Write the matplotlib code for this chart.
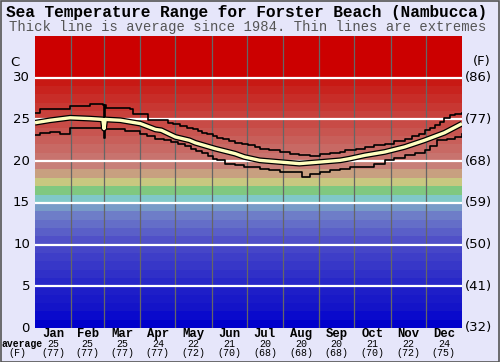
import matplotlib
matplotlib.use("Agg")
import matplotlib.pyplot as plt
import numpy as np

# ---- data ----
months = ["Jan", "Feb", "Mar", "Apr", "May", "Jun", "Jul", "Aug", "Sep", "Oct", "Nov", "Dec"]
month_avg_c = [25, 25, 25, 24, 22, 21, 20, 20, 20, 21, 22, 24]
month_avg_f = [77, 77, 77, 77, 72, 70, 68, 68, 68, 70, 72, 75]
month_days = [31, 28, 31, 30, 31, 30, 31, 31, 30, 31, 30, 31]

avg_day = [0, 13, 30, 47, 58, 59, 60, 73, 90, 103, 108, 120, 132, 137, 154, 171, 179, 192,
           209, 226, 244, 261, 269, 282, 299, 316, 333, 350, 365]
avg_temp = [24.6, 24.9, 25.2, 25.1, 25.0, 23.9, 25.0, 24.9, 24.5, 23.8, 23.7, 22.9, 22.5, 22.2,
            21.5, 20.9, 20.5, 20.1, 19.9, 19.7, 19.9, 20.1, 20.3, 20.7, 21.1, 21.7, 22.5, 23.4, 24.5]

max_day = [0, 4, 30, 47, 58, 59, 60, 61, 81, 84, 96, 97, 110, 114, 118, 124, 130, 135, 139, 143,
           147, 152, 156, 161, 166, 171, 177, 182, 188, 192, 200, 209, 218, 226, 235, 244, 252,
           261, 265, 274, 282, 290, 299, 307, 316, 322, 328, 333, 338, 342, 346, 350, 355, 359, 365]
max_temp = [25.8, 26.2, 26.6, 26.8, 26.7, 25.0, 26.7, 26.4, 26.3, 25.7, 25.6, 24.9, 24.9, 24.6,
            24.4, 24.2, 24.0, 23.8, 23.6, 23.4, 23.2, 23.0, 22.8, 22.6, 22.4, 22.2, 22.1, 21.9,
            21.7, 21.5, 21.3, 21.1, 20.9, 20.7, 20.6, 20.9, 21.0, 21.1, 21.3, 21.5, 21.7, 21.9,
            22.1, 22.4, 22.7, 23.0, 23.3, 23.7, 24.0, 24.3, 24.7, 25.2, 25.5, 25.7, 25.8]

min_day = [0, 4, 13, 21, 30, 58, 59, 60, 77, 90, 96, 103, 110, 116, 122, 128, 133, 138, 143, 148,
           152, 156, 162, 171, 179, 192, 200, 209, 226, 228, 235, 244, 252, 261, 269, 282, 290,
           299, 307, 316, 325, 333, 338, 344, 352, 359, 365]
min_temp = [23.1, 23.4, 23.5, 23.3, 24.0, 23.9, 22.8, 23.9, 23.6, 23.3, 23.0, 22.7, 22.5, 22.3,
            22.0, 21.8, 21.5, 21.2, 21.0, 20.6, 20.3, 20.1, 19.7, 19.5, 19.3, 19.1, 18.9, 18.7,
            18.7, 18.1, 18.5, 18.7, 18.9, 19.0, 19.3, 19.3, 19.7, 20.1, 20.4, 20.7, 21.0, 21.3,
            21.8, 22.5, 22.7, 22.9, 23.3]

c_ticks = [0, 5, 10, 15, 20, 25, 30]
f_labels = ["(32)", "(41)", "(50)", "(59)", "(68)", "(77)", "(86)"]

band_colors = [
    (0, 0, 204), (10, 10, 204), (20, 20, 200), (25, 25, 200), (30, 30, 200),
    (40, 40, 200), (48, 48, 200), (55, 55, 200), (62, 62, 200), (70, 70, 200),
    (80, 80, 200), (90, 95, 200), (100, 110, 200), (110, 125, 200), (120, 155, 200),
    (128, 200, 200), (128, 200, 128), (200, 200, 128), (200, 160, 128), (200, 128, 120),
    (200, 115, 110), (200, 105, 100), (200, 95, 90), (200, 85, 80), (200, 75, 70),
    (200, 65, 60), (200, 55, 50), (200, 45, 40), (200, 35, 30), (200, 25, 20),
]

BG = "#e6e6fa"
fig = plt.figure(figsize=(5.0, 3.62), dpi=100, facecolor=BG)
ax = fig.add_axes([35 / 500, 1 - 328 / 362, 427 / 500, 292 / 362])
ax.set_xlim(0, 365)
ax.set_ylim(0, 35)

for i, c in enumerate(band_colors):
    ax.axhspan(i, i + 1, color=tuple(v / 255 for v in c), lw=0, zorder=0)
ax.axhspan(30, 35, color=(204 / 255, 0, 0), lw=0, zorder=0)

edges = np.cumsum(month_days)
for e in edges[:-1]:
    ax.axvline(e, color="#666666", lw=0.9, zorder=1)
for t in c_ticks[1:]:
    ax.axhline(t, color="white", lw=1.6, zorder=1)

ax.plot(max_day, max_temp, color="black", lw=1.2, drawstyle="steps-post", zorder=3)
ax.plot(min_day, min_temp, color="black", lw=1.2, drawstyle="steps-post", zorder=3)
ax.plot(avg_day, avg_temp, color="black", lw=4.2, solid_capstyle="butt", zorder=4)
ax.plot(avg_day, avg_temp, color="#ffffc0", lw=2.4, solid_capstyle="butt", zorder=5)

ax.set_xticks([])
ax.set_yticks([])
for s in ax.spines.values():
    s.set_visible(False)

# left / right labels
for t, fl in zip(c_ticks, f_labels):
    y = ax.transData.transform((0, t))[1]
    yf = y / 362
    fig.text(30 / 500, yf, str(t), ha="right", va="center", fontsize=9.5, family="DejaVu Sans")
    fig.text(465 / 500, yf, fl, ha="left", va="center", fontsize=9.5, family="DejaVu Sans")
fig.text(15 / 500, 1 - 62 / 362, "C", ha="center", va="center", fontsize=9.5, family="DejaVu Sans")
fig.text(482 / 500, 1 - 62 / 362, "(F)", ha="center", va="center", fontsize=9.5, family="DejaVu Sans")

# month labels
starts = np.concatenate([[0], edges[:-1]])
mono = "Liberation Mono"
for m, s, d, c, f in zip(months, starts, month_days, month_avg_c, month_avg_f):
    xc = (35 + (s + d / 2) * 427 / 365) / 500
    fig.text(xc, 1 - 334 / 362, m, ha="center", va="center", fontsize=8.8, family=mono, weight="bold")
    fig.text(xc, 1 - 344 / 362, str(c), ha="center", va="center", fontsize=7.2, family=mono)
    fig.text(xc, 1 - 353 / 362, f"({f})", ha="center", va="center", fontsize=7.2, family=mono)
fig.text(2 / 500, 1 - 344 / 362, "average", ha="left", va="center", fontsize=7, family=mono, weight="bold")
fig.text(17 / 500, 1 - 353 / 362, "(F)", ha="center", va="center", fontsize=7.2, family=mono)

fig.text(0.493, 1 - 13 / 362, "Sea Temperature Range for Forster Beach (Nambucca)", ha="center", va="center",
         fontsize=11.6, family=mono, weight="bold")
fig.text(0.495, 1 - 27 / 362, "Thick line is average since 1984. Thin lines are extremes", ha="center",
         va="center", fontsize=10, family=mono, color="#555555")

fig.add_artist(plt.Rectangle((0.001, 0.001), 0.997, 0.997, transform=fig.transFigure, fill=False,
                             edgecolor="#555555", lw=1.2))

fig.savefig("out.png", dpi=100, facecolor=BG)
